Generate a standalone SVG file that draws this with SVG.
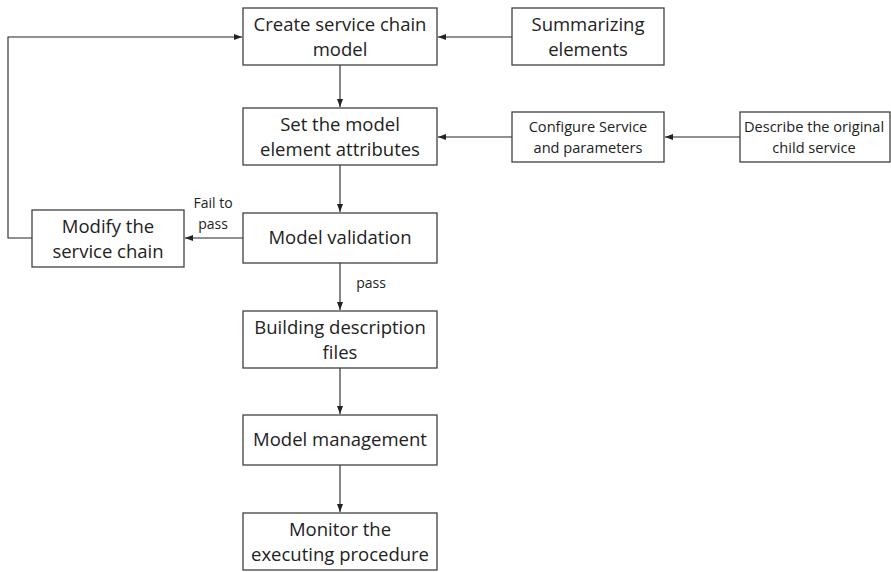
<svg xmlns="http://www.w3.org/2000/svg" width="891" height="572" viewBox="0 0 891 572">
<style>
.box{fill:#fff;stroke:#404040;stroke-width:1.3}
.t{font-family:"Open Sans","Liberation Sans",sans-serif;font-size:18.5px;fill:#222;text-anchor:middle}
.s{font-family:"Open Sans","Liberation Sans",sans-serif;font-size:14.6px;fill:#222;text-anchor:middle}
.l{font-family:"Open Sans","Liberation Sans",sans-serif;font-size:14px;fill:#222;text-anchor:middle}
.c{fill:none;stroke:#222;stroke-width:1.1;marker-end:url(#ah)}
</style>
<defs>
<marker id="ah" viewBox="0 0 8 8" refX="8" refY="4" markerWidth="8" markerHeight="8" markerUnits="userSpaceOnUse" orient="auto">
<path d="M0,1 L8,4 L0,7 Z" fill="#222"/>
</marker>
</defs>
<g id="connectors">
<path class="c" d="M512,37 H438"/>
<path class="c" d="M740,137 H665"/>
<path class="c" d="M512,137 H438"/>
<path class="c" d="M340,65 V107"/>
<path class="c" d="M340,165 V212"/>
<path class="c" d="M243,238 H185"/>
<path class="c" d="M32,238 H8 V37 H242"/>
<path class="c" d="M340,263 V310"/>
<path class="c" d="M340,368 V414"/>
<path class="c" d="M340,465 V512"/>
<text class="l" x="213" y="208">Fail to</text>
<text class="l" x="213" y="229">pass</text>
<text class="l" x="371" y="288">pass</text>
</g>
<g id="create"><rect class="box" x="243" y="8" width="194" height="57"/><text class="t" x="340" y="31">Create service chain</text><text class="t" x="340" y="56">model</text></g>
<g id="summarizing"><rect class="box" x="512" y="8" width="152" height="57"/><text class="t" x="588" y="31">Summarizing</text><text class="t" x="588" y="56">elements</text></g>
<g id="set"><rect class="box" x="243" y="108" width="194" height="57"/><text class="t" x="340" y="131">Set the model</text><text class="t" x="340" y="156">element attributes</text></g>
<g id="configure"><rect class="box" x="512" y="112" width="152" height="50"/><text class="s" x="588" y="132">Configure Service</text><text class="s" x="588" y="153">and parameters</text></g>
<g id="describe"><rect class="box" x="740" y="112" width="150" height="50"/><text class="s" x="814" y="132">Describe the original</text><text class="s" x="814" y="153">child service</text></g>
<g id="validation"><rect class="box" x="243" y="213" width="194" height="50"/><text class="t" x="340" y="244">Model validation</text></g>
<g id="modify"><rect class="box" x="32" y="210" width="152" height="57"/><text class="t" x="108" y="233">Modify the</text><text class="t" x="108" y="258">service chain</text></g>
<g id="building"><rect class="box" x="243" y="311" width="194" height="57"/><text class="t" x="340" y="334">Building description</text><text class="t" x="340" y="359">files</text></g>
<g id="management"><rect class="box" x="243" y="415" width="194" height="50"/><text class="t" x="340" y="446">Model management</text></g>
<g id="monitor"><rect class="box" x="243" y="513" width="194" height="57"/><text class="t" x="340" y="536">Monitor the</text><text class="t" x="340" y="561">executing procedure</text></g>
</svg>
